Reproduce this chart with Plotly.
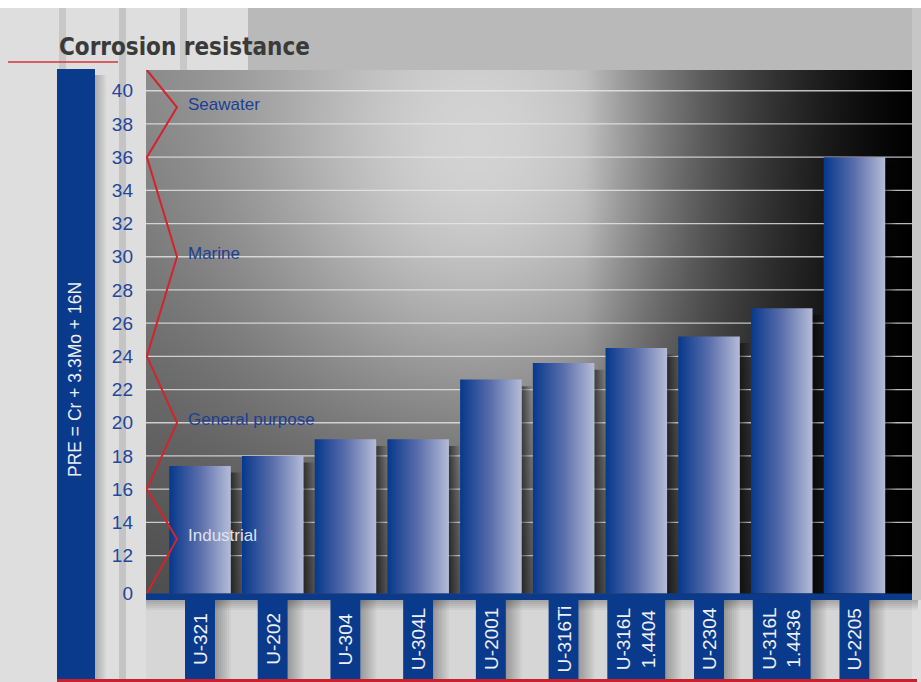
import numpy as np
import plotly.graph_objects as go

# ---- data -------------------------------------------------------------
grades = ["U-321", "U-202", "U-304", "U-304L", "U-2001", "U-316Ti",
          "U-316L\n1.4404", "U-2304", "U-316L\n1.4436", "U-2205"]
pre_values = [17.4, 18.0, 19.0, 19.0, 22.6, 23.6, 24.5, 25.2, 26.9, 36.0]

tick_values = [0] + list(range(12, 41, 2))

band_names = ["Industrial", "General purpose", "Marine", "Seawater"]
band_lower = [0, 16, 24, 36]
band_peak = [13, 20, 30, 39]

# ---- geometry / style -------------------------------------------------
FIG_W, FIG_H = 921, 682
PL, PR, PT, PB = 146, 912, 70, 600          # plot area in pixels
PW, PH = PR - PL, PB - PT
PITCH = 72.72                                # px per category
X0 = -54 / PITCH
X1 = X0 + PW / PITCH
Y_TOP = 41.25
Y_BOT = Y_TOP - PH / 16.6
BASE = 9.72                                  # axis position standing for PRE = 0
BAR_W = 0.846

BLUE = "#0a3a8c"
RED = "#cc1f2b"
TICK_BLUE = "#23479a"
COND = "DejaVu Sans Condensed, Liberation Sans Narrow, Liberation Sans, sans-serif"


def ypos(v):
    """Broken value axis: everything under 12 collapses onto the base line."""
    return v if v >= 12 else BASE


def px_x(px):
    return (px - PL) / PW


def px_y(py):
    return (PB - py) / PH


fig = go.Figure()

# ---- plot background: grey sheen fading to black on the right ---------
gx = np.linspace(X0, X1, 90)
gy = np.linspace(Y_BOT, Y_TOP, 60)
U, V = np.meshgrid((gx - X0) / (X1 - X0), (gy - Y_BOT) / (Y_TOP - Y_BOT))
light = 0.30 + 0.20 * V + 0.36 * np.exp(-((U - 0.43) / 0.31) ** 2 - ((V - 0.80) / 0.50) ** 2)
fade = np.where(U > 0.57, np.clip((1.0 - U) / 0.43, 0, 1) ** 1.2, 1.0)
fig.add_trace(go.Heatmap(
    x=gx, y=gy, z=light * fade, zmin=0, zmax=1, zsmooth="best",
    colorscale=[[0, "#000000"], [1, "#ffffff"]], showscale=False, hoverinfo="skip",
))

# ---- grid lines ---------------------------------------------------------
gl_x, gl_y = [], []
for t in tick_values[1:]:
    gl_x += [X0, X1, None]
    gl_y += [t, t, None]
fig.add_trace(go.Scatter(x=gl_x, y=gl_y, mode="lines",
                         line=dict(color="rgba(232,232,232,0.8)", width=1.3),
                         hoverinfo="skip", showlegend=False))

# ---- bars (with soft shadow to the right) -------------------------------
for i, v in enumerate(pre_values):
    left, right = i - BAR_W / 2, i + BAR_W / 2
    sh = 0.16
    fig.add_trace(go.Scatter(
        x=[right, right + sh, right + sh, right, right],
        y=[BASE, BASE, ypos(v) - 0.4, ypos(v) - 0.4, BASE],
        mode="lines", fill="toself", line=dict(width=0),
        fillgradient=dict(type="horizontal",
                          colorscale=[[0, "rgba(0,0,0,0.55)"], [1, "rgba(0,0,0,0)"]]),
        hoverinfo="skip", showlegend=False))
    fig.add_trace(go.Scatter(
        x=[left, right, right, left, left],
        y=[BASE, BASE, ypos(v), ypos(v), BASE],
        mode="lines", fill="toself", line=dict(width=0),
        fillgradient=dict(type="horizontal",
                          colorscale=[[0, "#06388c"], [0.5, "#5a6eab"], [1, "#b5bcd8"]]),
        name=grades[i].replace("\n", " "), showlegend=False,
        hovertemplate="%{text}: " + f"{v}" + "<extra></extra>", text=[grades[i]] * 5))

# ---- red zig-zag separating the application bands -----------------------
edge = X0 + 0.012
peak_x = X0 + 31 / PITCH
zz_x, zz_y = [edge], [Y_TOP]
for lo, pk in zip(band_lower[::-1], band_peak[::-1]):
    zz_x += [peak_x, edge]
    zz_y += [pk, ypos(lo)]
fig.add_trace(go.Scatter(x=zz_x, y=zz_y, mode="lines",
                         line=dict(color="#d3232b", width=2),
                         hoverinfo="skip", showlegend=False))

annotations = []
for name, pk in zip(band_names, band_peak):
    annotations.append(dict(
        x=X0 + 40 / PITCH, y=pk, xref="x", yref="y", xanchor="left", yanchor="middle",
        text=name, showarrow=False, yshift=3,
        font=dict(family="Liberation Sans, Arial, sans-serif", size=17,
                  color="#dfe2ec" if name == "Industrial" else "#1c3f94")))

# ---- shapes: page backdrop ----------------------------------------------
shapes = []


def rect(x0, x1, y0, y1, color, layer="below"):
    shapes.append(dict(type="rect", xref="paper", yref="paper",
                       x0=px_x(x0), x1=px_x(x1), y0=px_y(y0), y1=px_y(y1),
                       fillcolor=color, line=dict(width=0), layer=layer))


def grad(x0, x1, y0, y1, a0, a1, n=8, horizontal=True, rgb="0,0,0"):
    for k in range(n):
        a = max(0.0, a0 + (a1 - a0) * k / (n - 1))
        if a < 0.004:
            continue
        if horizontal:
            xa = x0 + (x1 - x0) * k / n
            xb = x0 + (x1 - x0) * (k + 1) / n
            rect(xa, xb, y0, y1, f"rgba({rgb},{a:.3f})")
        else:
            ya = y0 + (y1 - y0) * k / n
            yb = y0 + (y1 - y0) * (k + 1) / n
            rect(x0, x1, ya, yb, f"rgba({rgb},{a:.3f})")


rect(0, FIG_W, 0, 8, "#ffffff")
rect(248, PR, 8, PT, "#b9b9b9")
rect(PR, FIG_W, 8, PB, "#c6c6c6")
rect(59, 66, 8, 69, "#c8c8c8")
rect(119, 126, 8, 679, "#c4c4c4")
rect(180, 187, 8, PT, "#c8c8c8")
rect(PL, PR, PB, 679, "#d6d6d6")

# shadow under the plot and beside the left title bar
grad(PL, PR + 6, PB, PB + 12, 0.22, 0.0, n=6, horizontal=False)
grad(95, 108, 75, 679, 0.22, 0.0, n=7)

# left title bar
rect(57, 95, 69, 680, "#0a3a8c")

# title underline and bottom rule
shapes.append(dict(type="line", xref="paper", yref="paper",
                   x0=px_x(8), x1=px_x(118), y0=px_y(62), y1=px_y(62),
                   line=dict(color="#d0353b", width=1.5)))
rect(57, 917, 679, 682, RED)

# blue base strip under the bars
shapes.append(dict(type="rect", xref="paper", yref="y", x0=0, x1=1,
                   y0=Y_BOT, y1=BASE, fillcolor="#0b3a8b",
                   line=dict(width=0), layer="above"))

# ---- category tabs under the bars ----------------------------------------
for i, g in enumerate(grades):
    lines = g.count("\n") + 1
    half_px = 15 if lines == 1 else 29
    cx = PL + (i - X0) * PITCH
    grad(cx + half_px, cx + half_px + 18, PB, 679, 0.28, 0.0, n=9)
    rect(cx - half_px, cx + half_px, PB, 679, BLUE)
    annotations.append(dict(
        x=i, y=px_y(639), xref="x", yref="paper", xanchor="center", yanchor="middle",
        text=g.replace("\n", "<br>"), textangle=-90, showarrow=False,
        font=dict(family="Liberation Sans, Arial, sans-serif", size=19, color="#eef0f6")))

# ---- titles --------------------------------------------------------------
annotations.append(dict(
    x=px_x(57), y=px_y(47), xref="paper", yref="paper", xanchor="left", yanchor="middle",
    text="<b>Corrosion resistance</b>", showarrow=False,
    font=dict(family=COND, size=24, color="#3a3a3a")))
annotations.append(dict(
    x=px_x(75), y=px_y(380), xref="paper", yref="paper", xanchor="center", yanchor="middle",
    text="PRE = Cr + 3.3Mo + 16N", textangle=-90, showarrow=False,
    font=dict(family="Liberation Sans, Arial, sans-serif", size=17.5, color="#eef0f6")))

fig.update_layout(
    width=FIG_W, height=FIG_H,
    margin=dict(l=PL, r=FIG_W - PR, t=PT, b=FIG_H - PB),
    paper_bgcolor="#dedede", plot_bgcolor="#777777",
    showlegend=False,
    shapes=shapes, annotations=annotations,
    xaxis=dict(range=[X0, X1], visible=False, showgrid=False, zeroline=False),
    yaxis=dict(range=[Y_BOT, Y_TOP], showgrid=False, zeroline=False,
               tickvals=[ypos(t) for t in tick_values],
               ticktext=[str(t) for t in tick_values],
               ticks="", ticklabelstandoff=12,
               tickfont=dict(family="Liberation Sans, Arial, sans-serif", size=19,
                             color=TICK_BLUE)),
)

fig.write_html("out.html")
